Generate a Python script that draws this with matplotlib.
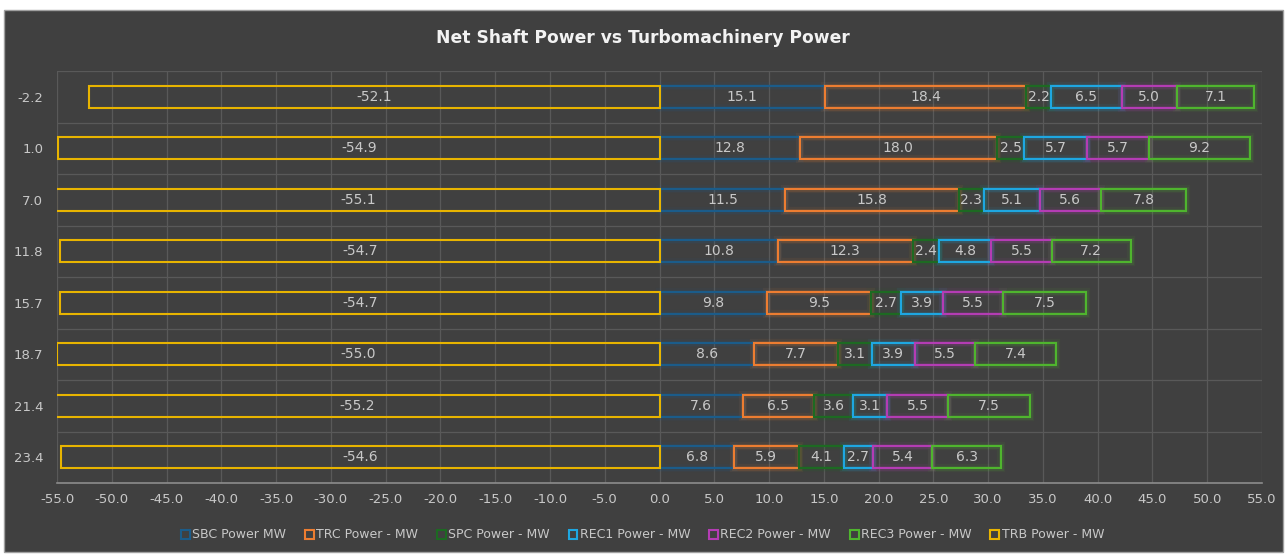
import matplotlib
matplotlib.use("Agg")
import matplotlib.pyplot as plt
from matplotlib.patches import Rectangle, Patch
import numpy as np

categories = ['-2.2', '1.0', '7.0', '11.8', '15.7', '18.7', '21.4', '23.4']
sbc = [15.1, 12.8, 11.5, 10.8, 9.8, 8.6, 7.6, 6.8]
trc = [18.4, 18.0, 15.8, 12.3, 9.5, 7.7, 6.5, 5.9]
spc = [2.2, 2.5, 2.3, 2.4, 2.7, 3.1, 3.6, 4.1]
rec1 = [6.5, 5.7, 5.1, 4.8, 3.9, 3.9, 3.1, 2.7]
rec2 = [5.0, 5.7, 5.6, 5.5, 5.5, 5.5, 5.5, 5.4]
rec3 = [7.1, 9.2, 7.8, 7.2, 7.5, 7.4, 7.5, 6.3]
trb = [-52.1, -54.9, -55.1, -54.7, -54.7, -55.0, -55.2, -54.6]

series_names = ['SBC Power MW', 'TRC Power - MW', 'SPC Power - MW', 'REC1 Power - MW',
                'REC2 Power - MW', 'REC3 Power - MW', 'TRB Power - MW']
colors = ['#1b5c8a', '#ed7d31', '#1d6a22', '#1ea7e1', '#b43cb4', '#4fb52e', '#e8b400']
glow = [True, True, True, True, True, True, False]

BG = '#404040'
W, H = 1285, 554
fig = plt.figure(figsize=(W / 100, H / 100), dpi=100, facecolor='white')
bgrect = Rectangle((4 / W, 2 / H), (W - 6) / W, (H - 12) / H, transform=fig.transFigure,
                   facecolor=BG, edgecolor='#a0a0a0', linewidth=1.0, zorder=-10)
fig.add_artist(bgrect)

ax = fig.add_axes([57 / W, 1 - 483 / H, (1262 - 57) / W, (483 - 71) / H])
ax.set_facecolor(BG)
ax.set_zorder(1)

n = len(categories)
y = np.arange(n)
h = 0.42

def draw(lefts, widths, color, g):
    for yi, l, w in zip(y, lefts, widths):
        if g:
            for lw, a in [(6, 0.07), (3.5, 0.14)]:
                ax.barh(yi, w, left=l, height=h, facecolor='none', edgecolor=color,
                        linewidth=lw, alpha=a, zorder=3)
        ax.barh(yi, w, left=l, height=h, facecolor='none', edgecolor=color,
                linewidth=1.5, zorder=4)
        ax.text(l + w / 2, yi, f'{w:.1f}', ha='center', va='center', color='#c8c8c8',
                fontsize=10, zorder=5)

pos = [sbc, trc, spc, rec1, rec2, rec3]
left = np.zeros(n)
for vals, c, g in zip(pos, colors[:6], glow[:6]):
    draw(left, vals, c, g)
    left = left + np.array(vals)
draw(np.zeros(n), trb, colors[6], glow[6])

ax.set_xlim(-55, 55)
ax.set_ylim(n - 0.5, -0.5)
ax.set_xticks(np.arange(-55, 56, 5))
ax.set_xticklabels([f'{v:.1f}' for v in np.arange(-55, 56, 5)])
ax.set_yticks(y)
ax.set_yticklabels(categories)
ax.set_yticks(np.arange(-0.5, n, 1), minor=True)
ax.tick_params(axis='both', which='both', length=0, colors='#c8c8c8', labelsize=9.5)
ax.tick_params(axis='x', pad=7)
ax.tick_params(axis='y', pad=10)
ax.grid(True, axis='x', which='major', color='#595959', linewidth=0.9, zorder=0)
ax.grid(True, axis='y', which='minor', color='#595959', linewidth=0.9, zorder=0)
ax.grid(False, axis='y', which='major')
ax.set_axisbelow(True)
for s in ['top', 'right', 'left']:
    ax.spines[s].set_visible(False)
ax.spines['bottom'].set_color('#8c8c8c')
ax.spines['bottom'].set_linewidth(1.2)

fig.text(0.5, 1 - 38 / H, 'Net Shaft Power vs Turbomachinery Power', ha='center', va='center',
         color='#f2f2f2', fontsize=12.3, fontweight='bold')

handles = [Patch(facecolor='none', edgecolor=c, linewidth=1.5, label=nm)
           for c, nm in zip(colors, series_names)]
fig.legend(handles=handles, loc='center', bbox_to_anchor=(0.5, 1 - 535 / H), ncol=7, frameon=False,
           fontsize=9, labelcolor='#c8c8c8', handlelength=0.7, handleheight=0.7,
           handletextpad=0.2, columnspacing=1.5)

fig.savefig('out.png', dpi=100, facecolor=fig.get_facecolor())
